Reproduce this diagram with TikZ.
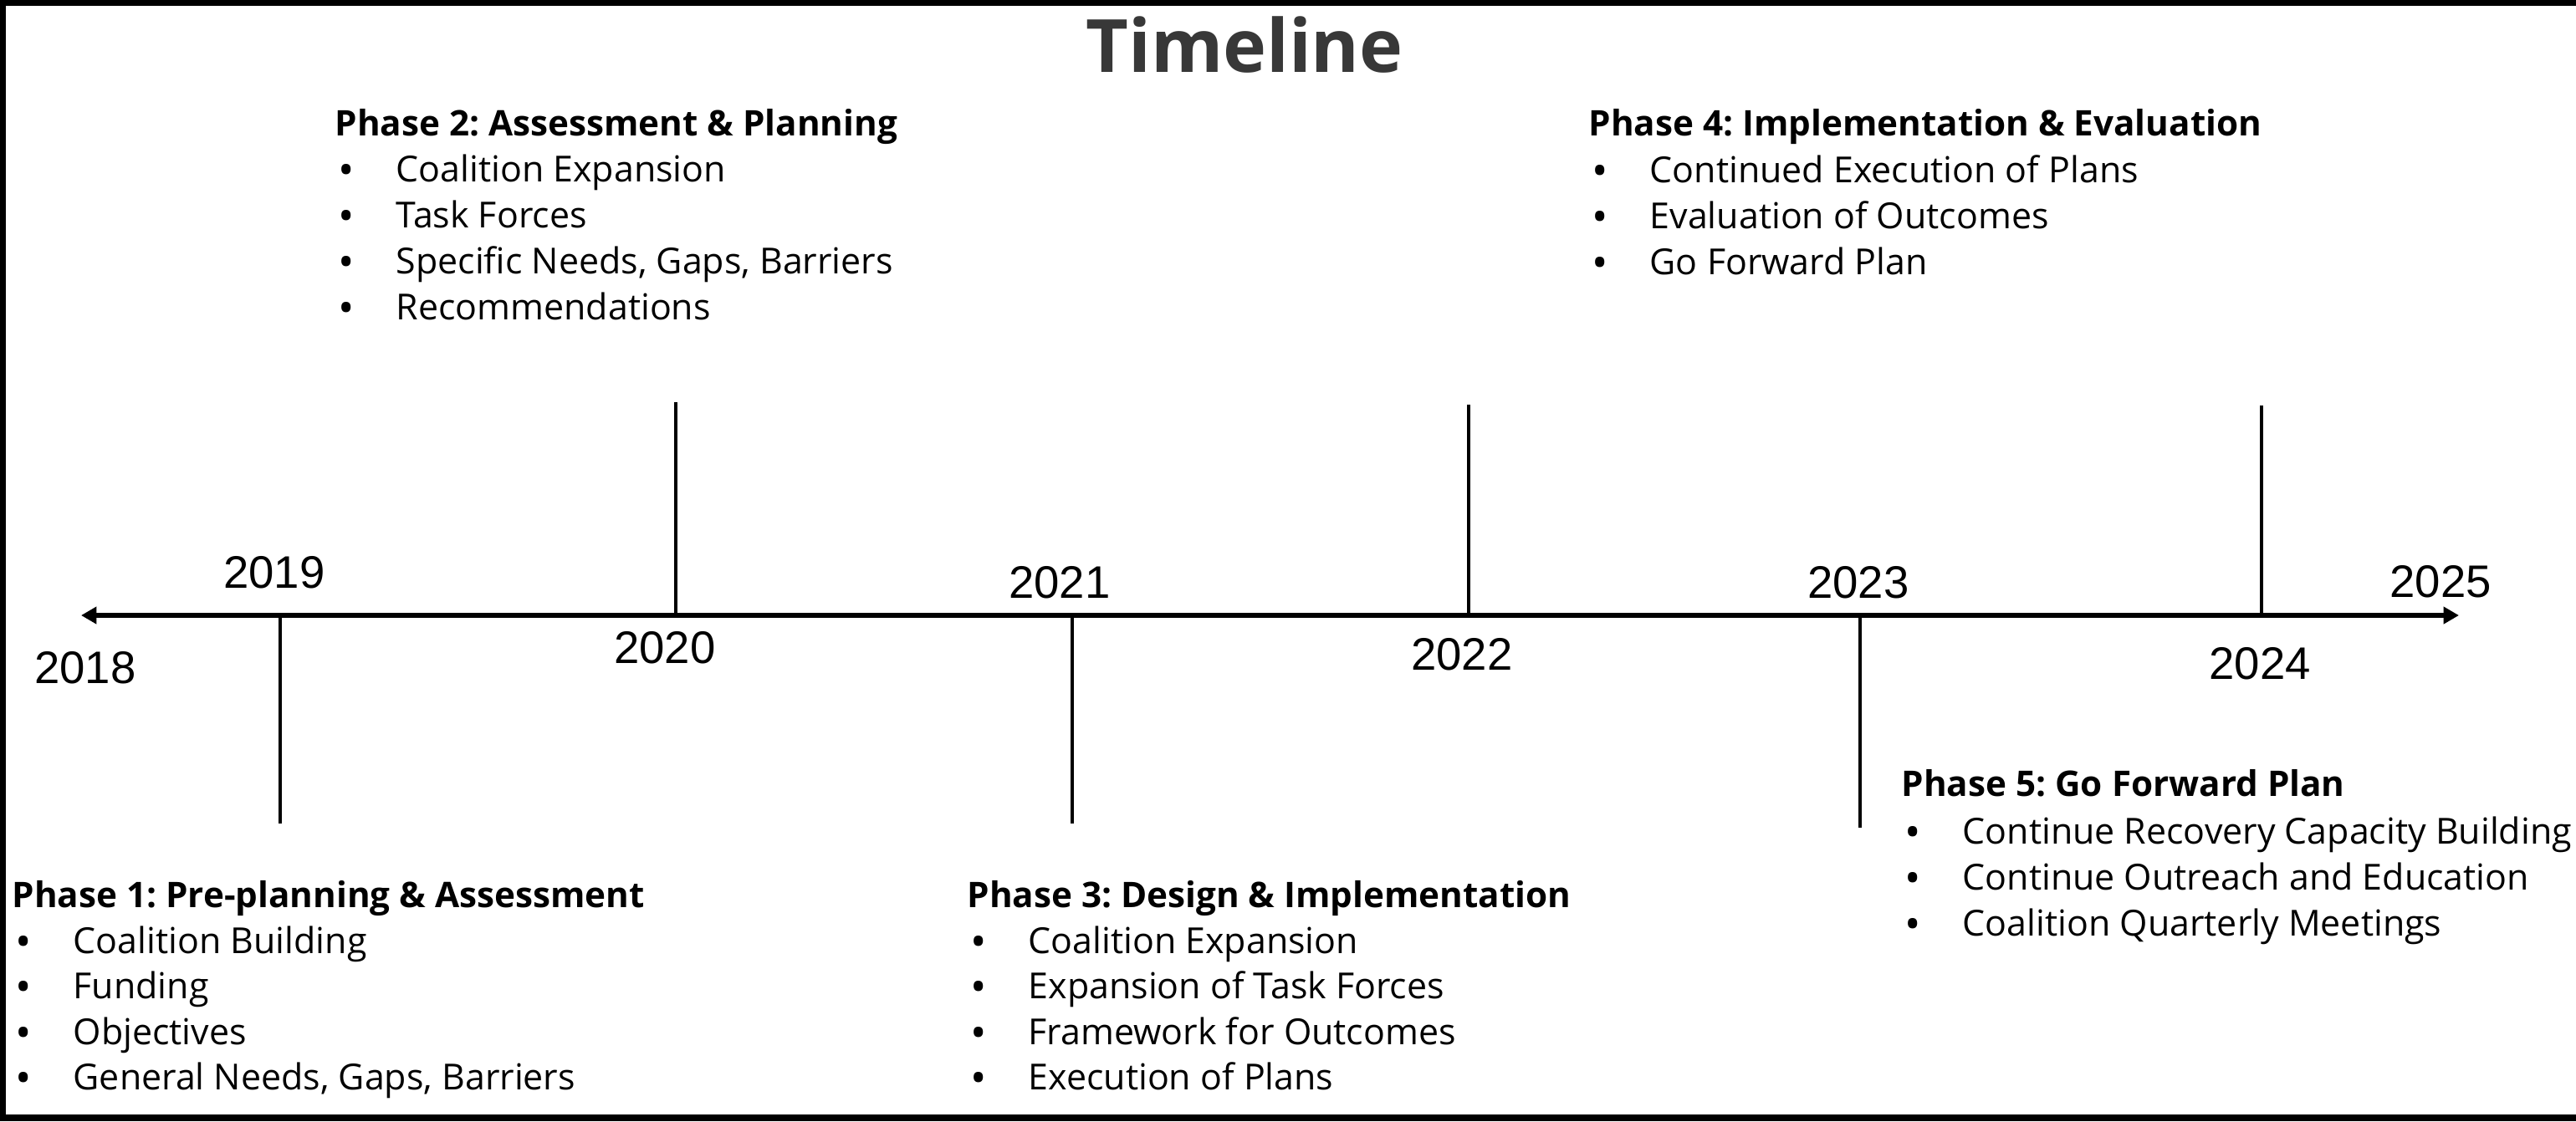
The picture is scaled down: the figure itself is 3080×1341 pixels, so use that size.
\documentclass[tikz,border=0pt]{standalone}
\usepackage{fontspec}
\setmainfont{Open Sans}
\newfontfamily\yearfont{Liberation Sans}
\usetikzlibrary{arrows.meta}
\definecolor{titlegray}{RGB}{56,56,56}
\newcommand\phaseitem[4]{\node[tlitem] (#1) at (#2,#3) {\makebox[0.69cm][l]{\raisebox{-0.18ex}{\scalebox{1.2}{\textbullet}}}#4};}
\begin{document}
\frenchspacing
\begin{tikzpicture}[x=0.01cm, y=-0.01cm,
  tlhead/.style={font=\frenchspacing\fontsize{12pt}{14pt}\selectfont\bfseries, inner sep=0pt, anchor=base west},
  tlitem/.style={font=\frenchspacing\fontsize{12.2pt}{14pt}\selectfont, inner sep=0pt, anchor=base west},
  tlyear/.style={font=\yearfont\fontsize{15.5pt}{18pt}\selectfont, inner sep=0pt, anchor=base},
  tltitle/.style={font=\fontsize{25pt}{30pt}\selectfont\bfseries, text=titlegray, inner sep=0pt, anchor=base},
  tlaxis/.style={line width=1.5pt, {Triangle[length=5.2pt,width=5.6pt]}-{Triangle[length=5.2pt,width=5.6pt]}},
  tltick/.style={line width=1.2pt},
  tlframe/.style={line width=2.2pt}]
\useasboundingbox (0,0) rectangle (3080,1341);
% frame (no right side)
\coordinate (fTR) at (3085,3);
\coordinate (fTL) at (3,3);
\coordinate (fBL) at (3,1337);
\coordinate (fBR) at (3085,1337);
\draw[tlframe] (fTR) -- (fTL) -- (fBL) -- (fBR);

% title
\node[tltitle] (title) at (1488,86) {Timeline};

% axis
\coordinate (axL) at (97,736);
\coordinate (axR) at (2940,736);
\draw[tlaxis] (axL) -- (axR);

% ticks
\coordinate (t19a) at (335,736);  \coordinate (t19b) at (335,985);
\coordinate (t20a) at (808,736);  \coordinate (t20b) at (808,481);
\coordinate (t21a) at (1282,736); \coordinate (t21b) at (1282,985);
\coordinate (t22a) at (1756,736); \coordinate (t22b) at (1756,484);
\coordinate (t23a) at (2224,736); \coordinate (t23b) at (2224,990);
\coordinate (t24a) at (2704,736); \coordinate (t24b) at (2704,485);
\foreach \n in {19,20,21,22,23,24} \draw[tltick] (t\n a) -- (t\n b);

% years
\node[tlyear] (y18) at (102,817) {2018};
\node[tlyear] (y19) at (328,703) {2019};
\node[tlyear] (y20) at (795,793) {2020};
\node[tlyear] (y21) at (1267,715) {2021};
\node[tlyear] (y22) at (1748,801) {2022};
\node[tlyear] (y23) at (2222,715) {2023};
\node[tlyear] (y24) at (2702,812) {2024};
\node[tlyear] (y25) at (2918,714) {2025};

% Phase 1
\node[tlhead] (p1) at (14,1085) {Phase 1: Pre-planning \& Assessment};
\phaseitem{p1a}{18}{1140}{Coalition Building}
\phaseitem{p1b}{18}{1194}{Funding}
\phaseitem{p1c}{18}{1249}{Objectives}
\phaseitem{p1d}{18}{1303}{General Needs, Gaps, Barriers}

% Phase 2
\node[tlhead] (p2) at (400,162) {Phase 2: Assessment \& Planning};
\phaseitem{p2a}{404}{217}{Coalition Expansion}
\phaseitem{p2b}{404}{272}{Task Forces}
\phaseitem{p2c}{404}{327}{Specific Needs, Gaps, Barriers}
\phaseitem{p2d}{404}{382}{Recommendations}

% Phase 3
\node[tlhead] (p3) at (1156,1085) {Phase 3: Design \& Implementation};
\phaseitem{p3a}{1160}{1140}{Coalition Expansion}
\phaseitem{p3b}{1160}{1194}{Expansion of Task Forces}
\phaseitem{p3c}{1160}{1249}{Framework for Outcomes}
\phaseitem{p3d}{1160}{1303}{Execution of Plans}

% Phase 4
\node[tlhead] (p4) at (1899,162) {Phase 4: Implementation \& Evaluation};
\phaseitem{p4a}{1903}{218}{Continued Execution of Plans}
\phaseitem{p4b}{1903}{273}{Evaluation of Outcomes}
\phaseitem{p4c}{1903}{328}{Go Forward Plan}

% Phase 5
\node[tlhead] (p5) at (2273,952) {Phase 5: Go Forward Plan};
\phaseitem{p5a}{2277}{1009}{Continue Recovery Capacity Building}
\phaseitem{p5b}{2277}{1064}{Continue Outreach and Education}
\phaseitem{p5c}{2277}{1119}{Coalition Quarterly Meetings}
\end{tikzpicture}
\end{document}
